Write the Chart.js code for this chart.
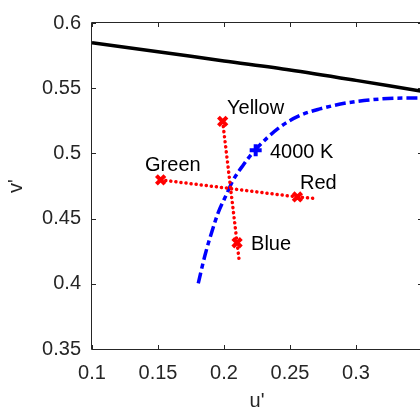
<!DOCTYPE html>
<html>
<head>
<meta charset="utf-8">
<script src="https://cdn.jsdelivr.net/npm/chart.js@4/dist/chart.umd.min.js"></script>
<style>
  html, body { margin: 0; padding: 0; overflow: hidden; background: #fff; }
  #wrap { width: 440px; height: 413px; }
</style>
</head>
<body>
<div id="wrap"><canvas id="mychart" width="440" height="413"></canvas></div>
<script>
// chart data (u', v')
const xTicks = [0.1, 0.15, 0.2, 0.25, 0.3, 0.35];
const yTicks = [0.35, 0.4, 0.45, 0.5, 0.55, 0.6];

const locusU = [0.1, 0.15, 0.2, 0.25, 0.3, 0.35];
const locusV = [0.5848, 0.5780, 0.5709, 0.5640, 0.5560, 0.5476];

const planckU = [0.1805, 0.1856, 0.1907, 0.1957, 0.2020, 0.2065, 0.2146, 0.2235, 0.2424, 0.2576, 0.2727, 0.2929, 0.3182, 0.3434, 0.35];
const planckV = [0.4004, 0.4219, 0.4396, 0.4548, 0.4687, 0.4787, 0.4911, 0.5025, 0.5202, 0.5291, 0.5341, 0.5387, 0.5417, 0.5425, 0.5425];

const ybU = [0.199, 0.2099, 0.2115];
const ybV = [0.5245, 0.4315, 0.418];
const grU = [0.152, 0.2556, 0.2707];
const grV = [0.4797, 0.4666, 0.4653];

const markNames = ['Yellow', 'Blue', 'Green', 'Red'];
const markU = [0.199, 0.2099, 0.152, 0.2556];
const markV = [0.5245, 0.4315, 0.4797, 0.4666];

const cctName = '4000 K';
const cctU = 0.2240;
const cctV = 0.5025;

// where the text labels go (left edge, middle)
const labelText = ['Yellow', '4000 K', 'Green', 'Red', 'Blue'];
const labelU = [0.2023, 0.2348, 0.1402, 0.2576, 0.2205];
const labelV = [0.5341, 0.5008, 0.4905, 0.4768, 0.4300];

const pts = (us, vs) => us.map((u, i) => ({x: u, y: vs[i]}));

const FONT = "'Liberation Sans', Arial, Helvetica, sans-serif";
const AXC = '#262626';

const boxPlugin = {
  id: 'box',
  afterDatasetsDraw(chart) {
    const {ctx, chartArea: a, scales} = chart;
    ctx.save();
    ctx.strokeStyle = AXC;
    ctx.lineWidth = 1;
    ctx.beginPath();
    ctx.rect(Math.round(a.left) - 0.5, Math.round(a.top) - 0.5, Math.round(a.right - a.left) + 1, Math.round(a.bottom - a.top) + 1);
    scales.x.ticks.forEach(t => {
      const px = Math.round(scales.x.getPixelForValue(t.value)) + 0.5;
      ctx.moveTo(px, a.bottom); ctx.lineTo(px, a.bottom - 4);
      ctx.moveTo(px, a.top); ctx.lineTo(px, a.top + 4);
    });
    scales.y.ticks.forEach(t => {
      const py = Math.round(scales.y.getPixelForValue(t.value)) + 0.5;
      ctx.moveTo(a.left, py); ctx.lineTo(a.left + 4, py);
      ctx.moveTo(a.right, py); ctx.lineTo(a.right - 4, py);
    });
    ctx.stroke();

    ctx.fillStyle = '#000';
    ctx.font = '20px ' + FONT;
    ctx.textAlign = 'left';
    ctx.textBaseline = 'middle';
    labelText.forEach((s, i) => {
      ctx.fillText(s, scales.x.getPixelForValue(labelU[i]), scales.y.getPixelForValue(labelV[i]));
    });
    ctx.restore();
  }
};

new Chart(document.getElementById('mychart'), {
  type: 'scatter',
  data: {
    datasets: [
      {
        label: 'cct',
        data: [{x: cctU, y: cctV}],
        pointStyle: 'cross',
        pointRadius: 6,
        borderColor: '#0000ff',
        backgroundColor: '#0000ff',
        borderWidth: 4,
        showLine: false
      },
      {
        label: 'markers',
        data: pts(markU, markV),
        pointStyle: 'crossRot',
        pointRadius: 6,
        borderColor: '#ff0000',
        backgroundColor: '#ff0000',
        borderWidth: 4,
        showLine: false
      },
      {
        label: 'yb',
        data: pts(ybU, ybV),
        showLine: true,
        borderColor: '#ff0000',
        borderWidth: 3.5,
        borderDash: [0.1, 5],
        borderCapStyle: 'round',
        pointRadius: 0
      },
      {
        label: 'gr',
        data: pts(grU, grV),
        showLine: true,
        borderColor: '#ff0000',
        borderWidth: 3.5,
        borderDash: [0.1, 5],
        borderCapStyle: 'round',
        pointRadius: 0
      },
      {
        label: 'planck',
        data: pts(planckU, planckV),
        showLine: true,
        borderColor: '#0000ff',
        borderWidth: 3.5,
        borderDash: [11, 4, 5, 4],
        cubicInterpolationMode: 'monotone',
        pointRadius: 0
      },
      {
        label: 'locus',
        data: pts(locusU, locusV),
        showLine: true,
        borderColor: '#000000',
        borderWidth: 3.5,
        tension: 0.3,
        pointRadius: 0
      }
    ]
  },
  options: {
    responsive: false,
    animation: false,
    devicePixelRatio: 1,
    layout: { padding: { left: 0, top: 19, right: 18, bottom: 0 } },
    plugins: { legend: { display: false }, tooltip: { enabled: false } },
    scales: {
      x: {
        type: 'linear',
        min: 0.1,
        max: 0.35,
        afterBuildTicks: s => { s.ticks = xTicks.map(v => ({value: v})); },
        afterFit: s => { s.height = 64; },
        grid: { display: false, drawTicks: false },
        border: { display: false },
        ticks: {
          padding: 12,
          color: AXC,
          font: { family: FONT, size: 20 },
          maxRotation: 0,
          autoSkip: false,
          callback: v => v > 0.34 ? '' : String(+v.toFixed(2))
        },
        title: { display: true, text: "u'", color: AXC, font: { family: FONT, size: 20 }, padding: 0 }
      },
      y: {
        type: 'linear',
        min: 0.35,
        max: 0.6,
        afterBuildTicks: s => { s.ticks = yTicks.map(v => ({value: v})); },
        afterFit: s => { s.width = 92; },
        grid: { display: false, drawTicks: false },
        border: { display: false },
        ticks: {
          padding: 11,
          color: AXC,
          font: { family: FONT, size: 20 },
          autoSkip: false,
          callback: v => String(+v.toFixed(2))
        },
        title: { display: true, text: "v'", color: AXC, font: { family: FONT, size: 20 }, padding: 4 }
      }
    }
  },
  plugins: [boxPlugin]
});
</script>
</body>
</html>
